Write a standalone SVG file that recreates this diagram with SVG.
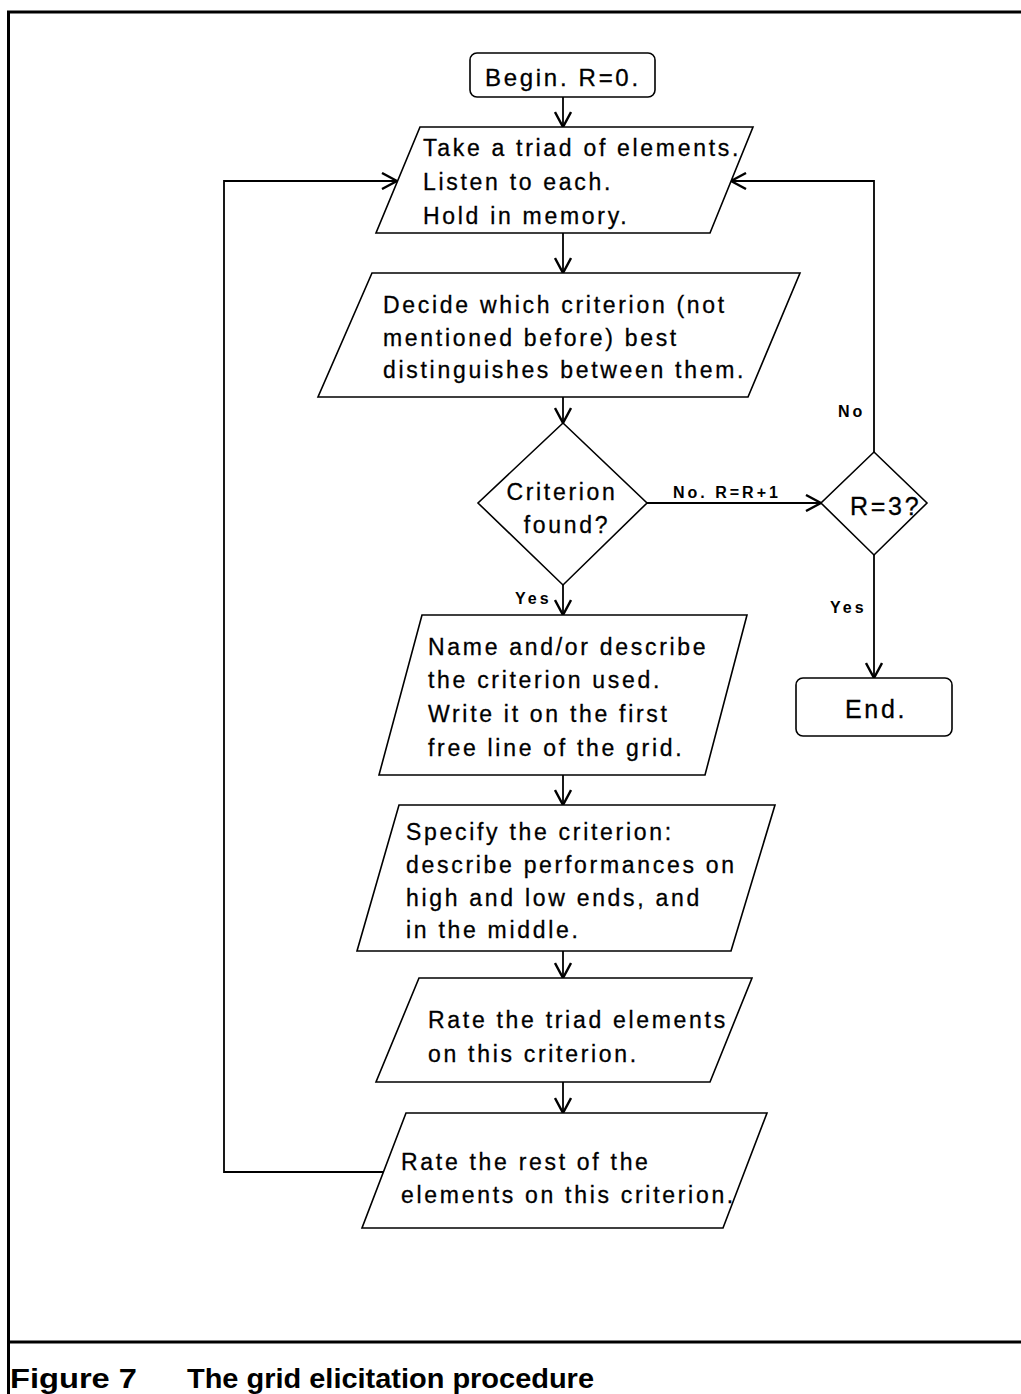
<svg xmlns="http://www.w3.org/2000/svg" width="1021" height="1394" viewBox="0 0 1021 1394">
<style>
.shape{fill:#fff;stroke:#000;stroke-width:1.6}
.conn{fill:none;stroke:#000;stroke-width:1.8}
.t{font-family:"Liberation Sans",Arial,sans-serif;font-size:23px;letter-spacing:2.7px;fill:#000;stroke:#000;stroke-width:0.3}
.big{font-size:25px}
.lbl{font-family:"Liberation Sans",Arial,sans-serif;font-size:16px;font-weight:bold;letter-spacing:3px;fill:#000}
.cap{font-family:"Liberation Sans",Arial,sans-serif;font-size:28px;font-weight:bold;fill:#000}
.frame{fill:none;stroke:#000;stroke-width:3}
</style>
<defs>
<marker id="arr" markerUnits="userSpaceOnUse" viewBox="0 0 17 18" refX="16" refY="9" markerWidth="17" markerHeight="18" orient="auto">
<path d="M1,1 L16,9 L1,17" fill="none" stroke="#000" stroke-width="2.4"/>
</marker>
</defs>
<rect width="1021" height="1394" fill="#fff"/>
<g id="frame">
<path class="frame" d="M1021,12 H8.5 V1394"/>
<line class="frame" x1="8.5" y1="1342" x2="1021" y2="1342"/>
</g>
<g id="connectors">
<line class="conn" x1="563" y1="97" x2="563" y2="127" marker-end="url(#arr)"/>
<line class="conn" x1="563" y1="233" x2="563" y2="273" marker-end="url(#arr)"/>
<line class="conn" x1="563" y1="397" x2="563" y2="423" marker-end="url(#arr)"/>
<line class="conn" x1="563" y1="585" x2="563" y2="615" marker-end="url(#arr)"/>
<line class="conn" x1="563" y1="775" x2="563" y2="805" marker-end="url(#arr)"/>
<line class="conn" x1="563" y1="951" x2="563" y2="978" marker-end="url(#arr)"/>
<line class="conn" x1="563" y1="1082" x2="563" y2="1113" marker-end="url(#arr)"/>
<line class="conn" x1="647" y1="503" x2="821" y2="503" marker-end="url(#arr)"/>
<path class="conn" d="M874,452 V181 H731" marker-end="url(#arr)"/>
<line class="conn" x1="874" y1="555" x2="874" y2="678" marker-end="url(#arr)"/>
<path class="conn" d="M383,1172 H224 V181 H397" marker-end="url(#arr)"/>
<text class="lbl" x="673" y="498">No. R=R+1</text>
<text class="lbl" x="838" y="417">No</text>
<text class="lbl" x="515" y="604">Yes</text>
<text class="lbl" x="830" y="613">Yes</text>
</g>
<g id="begin">
<rect class="shape" x="470" y="53" width="185" height="44" rx="7"/>
<text class="t" x="485" y="86" style="font-size:24px">Begin. R=0.</text>
</g>
<g id="take-triad">
<polygon class="shape" points="420,127 753,127 710,233 376,233"/>
<text class="t" x="423" y="156">Take a triad of elements.</text>
<text class="t" x="423" y="190">Listen to each.</text>
<text class="t" x="423" y="224">Hold in memory.</text>
</g>
<g id="decide">
<polygon class="shape" points="372,273 800,273 748,397 318,397"/>
<text class="t" x="383" y="313">Decide which criterion (not</text>
<text class="t" x="383" y="346">mentioned before) best</text>
<text class="t" x="383" y="378">distinguishes between them.</text>
</g>
<g id="criterion-found">
<polygon class="shape" points="563,423 647,503 563,585 478,503"/>
<text class="t" x="562" y="500" text-anchor="middle">Criterion</text>
<text class="t" x="567" y="533" text-anchor="middle">found?</text>
</g>
<g id="r3">
<polygon class="shape" points="874,452 927,503 874,555 821,503"/>
<text class="t big" x="850" y="515">R=3?</text>
</g>
<g id="end">
<rect class="shape" x="796" y="678" width="156" height="58" rx="7"/>
<text class="t big" x="845" y="718">End.</text>
</g>
<g id="name-describe">
<polygon class="shape" points="422,615 747,615 705,775 379,775"/>
<text class="t" x="428" y="655">Name and/or describe</text>
<text class="t" x="428" y="688">the criterion used.</text>
<text class="t" x="428" y="722">Write it on the first</text>
<text class="t" x="428" y="756">free line of the grid.</text>
</g>
<g id="specify">
<polygon class="shape" points="399,805 775,805 731,951 357,951"/>
<text class="t" x="406" y="840">Specify the criterion:</text>
<text class="t" x="406" y="873">describe performances on</text>
<text class="t" x="406" y="906">high and low ends, and</text>
<text class="t" x="406" y="938">in the middle.</text>
</g>
<g id="rate-triad">
<polygon class="shape" points="419,978 752,978 710,1082 376,1082"/>
<text class="t" x="428" y="1028">Rate the triad elements</text>
<text class="t" x="428" y="1062">on this criterion.</text>
</g>
<g id="rate-rest">
<polygon class="shape" points="406,1113 767,1113 723,1228 362,1228"/>
<text class="t" x="401" y="1170">Rate the rest of the</text>
<text class="t" x="401" y="1203">elements on this criterion.</text>
</g>
<g id="caption">
<text class="cap" x="10" y="1388" textLength="127" lengthAdjust="spacingAndGlyphs">Figure 7</text>
<text class="cap" x="187" y="1388" textLength="407" lengthAdjust="spacingAndGlyphs">The grid elicitation procedure</text>
</g>
</svg>
